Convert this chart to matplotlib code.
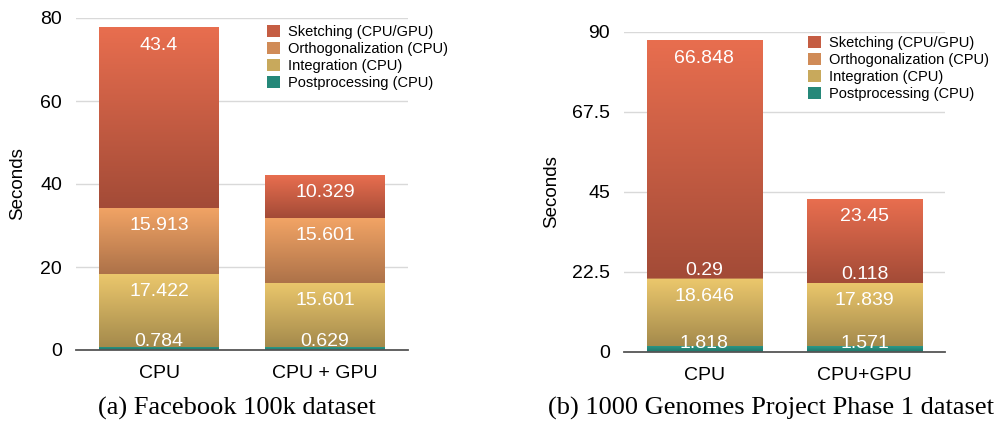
import numpy as np
import matplotlib
matplotlib.use('Agg')
import matplotlib.pyplot as plt
from matplotlib.colors import to_rgb
from matplotlib.patches import Patch

plt.rcParams['font.family'] = ['Liberation Sans', 'DejaVu Sans']

# Data
STAGES = ['Postprocessing (CPU)', 'Integration (CPU)',
          'Orthogonalization (CPU)', 'Sketching (CPU/GPU)']
FB_CATS = ['CPU', 'CPU + GPU']
FB_VALUES = [[0.784, 0.629],      # postprocessing
             [17.422, 15.601],    # integration
             [15.913, 15.601],    # orthogonalization
             [43.4, 10.329]]      # sketching
GEN_CATS = ['CPU', 'CPU+GPU']
GEN_VALUES = [[1.818, 1.571],
              [18.646, 17.839],
              [0.29, 0.118],
              [66.848, 23.45]]
FB_TICKS = [0, 20, 40, 60, 80]
GEN_TICKS = [0, 22.5, 45, 67.5, 90]
GEN_TICKLABELS = ['0', '22.5', '45', '67.5', '90']

# gradient colours (top, bottom) per stage
GRADS = [('#2b9a89', '#1f7568'),
         ('#ebc76c', '#a48a4c'),
         ('#f2a465', '#ad7249'),
         ('#e86e4f', '#a34b37')]

W, H = 999, 425
fig = plt.figure(figsize=(W / 100, H / 100), dpi=100)


def gradient_img(top, bottom):
    t = np.linspace(0, 1, 128)[:, None]
    a = np.array(to_rgb(bottom))
    b = np.array(to_rgb(top))
    return (a * (1 - t) + b * t)[:, None, :]


def draw_panel(rect, cats, values, ymax, ticks, ticklabels, leg_anchor, caption, cap_x, ylab_x):
    ax = fig.add_axes(rect)
    x = np.arange(len(cats))
    px_per_unit = rect[3] * H / ymax
    bottom = np.zeros(len(cats))
    for i, vals in enumerate(values):
        bars = ax.bar(x, vals, width=0.717, bottom=bottom, color='none',
                      edgecolor='none', zorder=3)
        for j, b in enumerate(bars):
            x0, y0, w, h = b.get_x(), b.get_y(), b.get_width(), b.get_height()
            ax.imshow(gradient_img(*GRADS[i]), extent=[x0, x0 + w, y0, y0 + h],
                      origin='lower', aspect='auto', zorder=3, interpolation='bilinear')
            top_px = (y0 + h) * px_per_unit
            bot_px = y0 * px_per_unit
            base_px = max(top_px - 22, bot_px + 4)
            ax.text(x0 + w / 2, base_px / px_per_unit, f'{vals[j]:g}', color='white',
                    ha='center', va='baseline', fontsize=14, zorder=5)
        bottom = bottom + np.array(vals)

    ax.set_xlim(-0.5, len(cats) - 0.5)
    ax.set_ylim(0, ymax)
    ax.set_yticks(ticks)
    ax.set_yticklabels(ticklabels)
    ax.set_xticks(x)
    ax.set_xticklabels(cats)
    ax.tick_params(length=0, labelsize=14, colors='black')
    ax.tick_params(axis='y', pad=10)
    ax.tick_params(axis='x', pad=11)
    for s in ax.spines.values():
        s.set_visible(False)
    for t in ticks[1:]:
        ax.axhline(t, color='#d9d9d9', lw=1.0, zorder=1)
    ax.axhline(0, color='#555555', lw=1.3, zorder=6, clip_on=False)

    fig.text(ylab_x / W, (rect[1] + rect[3] / 2), 'Seconds', rotation=90,
             ha='center', va='center', fontsize=13.5)

    # legend squares use the middle of each gradient
    handles = []
    for g in GRADS[::-1]:
        mid = (np.array(to_rgb(g[0])) + np.array(to_rgb(g[1]))) / 2
        handles.append(Patch(facecolor=mid, edgecolor='none'))
    ax.legend(handles, STAGES[::-1], loc='upper left', bbox_to_anchor=leg_anchor,
              frameon=False, fontsize=10.5, borderpad=0, borderaxespad=0,
              handlelength=0.9, handleheight=0.9, handletextpad=0.55,
              labelspacing=0.2)

    fig.text(cap_x / W, 17 / H, caption, ha='center', va='center',
             fontsize=19, family='Liberation Serif')
    return ax


draw_panel([76 / W, 75 / H, 332 / W, 332 / H], FB_CATS, FB_VALUES, 80,
           FB_TICKS, [str(t) for t in FB_TICKS], (0.575, 0.979),
           '(a) Facebook 100k dataset', 237, 18)
draw_panel([624 / W, 73 / H, 321 / W, 320 / H], GEN_CATS, GEN_VALUES, 90,
           GEN_TICKS, GEN_TICKLABELS, (0.573, 0.988),
           '(b) 1000 Genomes Project Phase 1 dataset', 771, 552)

fig.savefig('out.png', dpi=100)
